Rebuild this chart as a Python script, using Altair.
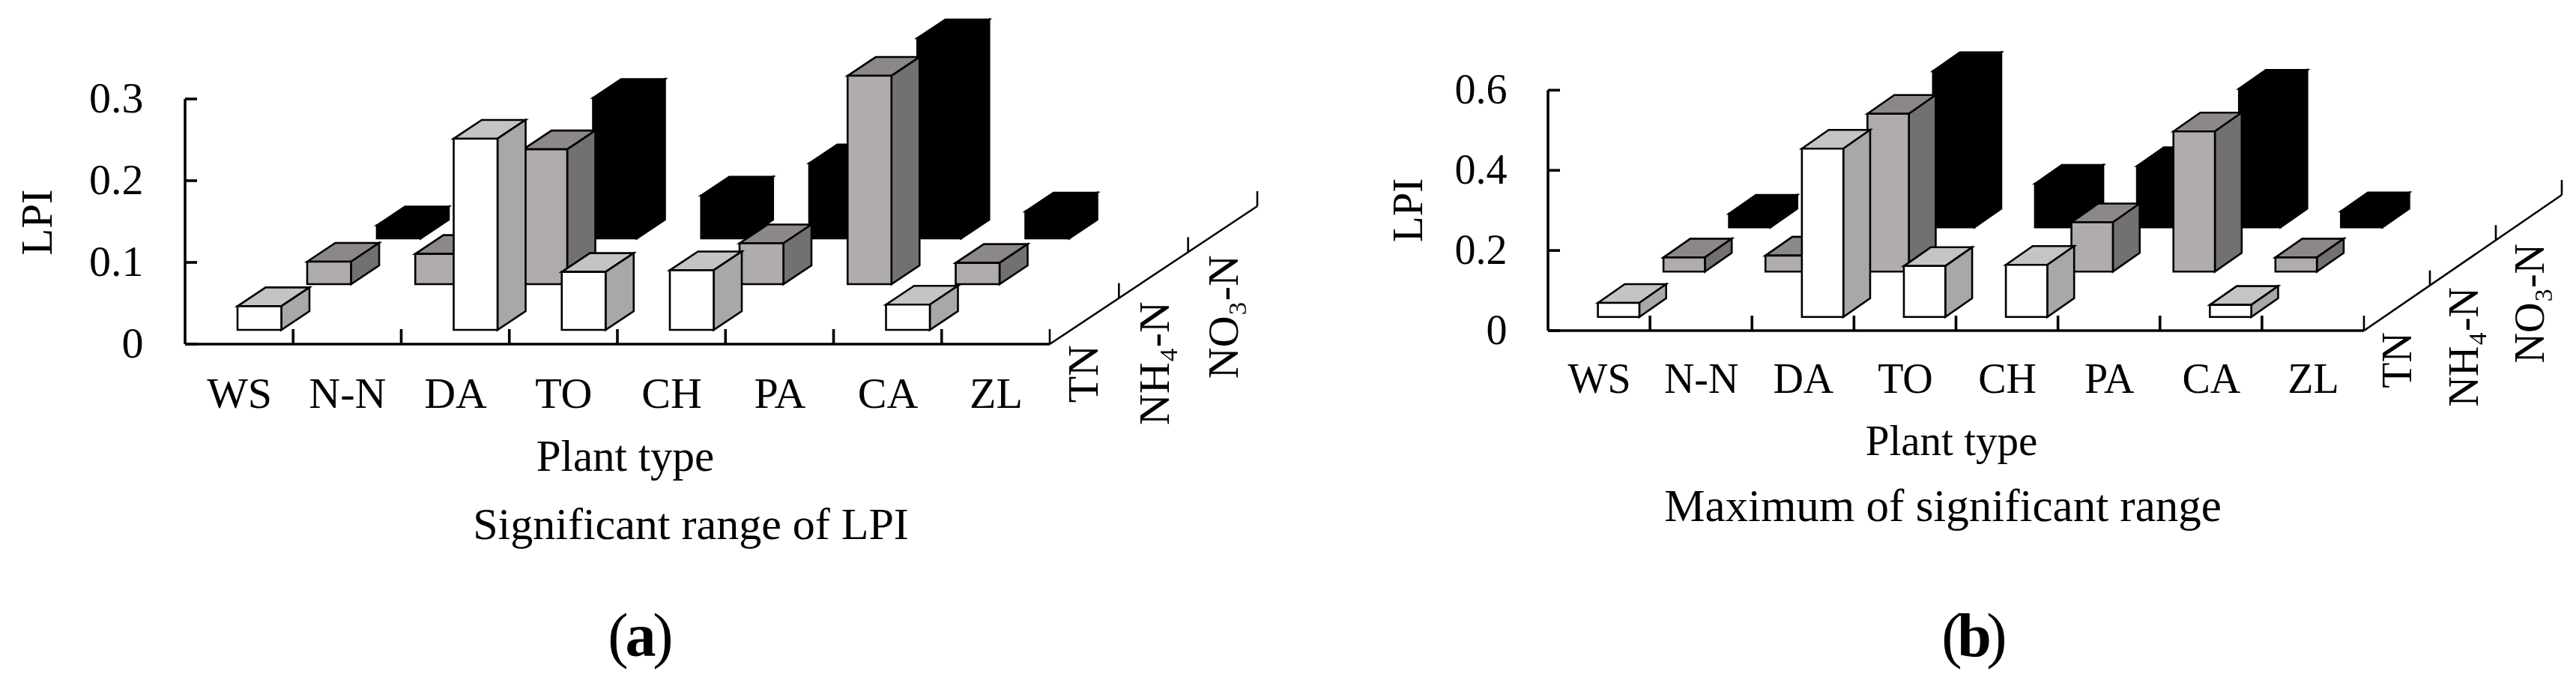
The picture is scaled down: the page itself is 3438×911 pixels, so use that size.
import json
import altair as alt

categories = ["WS", "N-N", "DA", "TO", "CH", "PA", "CA", "ZL"]
depth_labels = ["TN", "NH₄-N", "NO₃-N"]

# LPI values per plant type; None = no bar drawn
a_tn = [0.029, None, 0.234, 0.071, 0.073, None, 0.031, None]
a_nh4 = [0.0275, 0.037, 0.165, None, 0.05, 0.255, 0.026, None]
a_no3 = [0.016, None, 0.172, 0.0525, 0.092, 0.245, 0.033, None]

b_tn = [0.035, None, 0.42, 0.127, 0.13, None, 0.03, None]
b_nh4 = [0.0355, 0.04, 0.394, None, 0.123, 0.35, 0.0355, None]
b_no3 = [0.034, None, 0.39, 0.109, 0.153, 0.346, 0.04, None]

a_ticks = [0, 0.1, 0.2, 0.3]
b_ticks = [0, 0.2, 0.4, 0.6]

FONT = "Liberation Serif"
TOP, BOTTOM = 20, 470
FACE = [
    {"front": "#ffffff", "top": "#c4c4c4", "side": "#a8a8a8"},
    {"front": "#b0acac", "top": "#8c8888", "side": "#727070"},
    {"front": "#000000", "top": "#000000", "side": "#000000"},
]


def panel(series, ticks, cfg):
    x0, x8, y0 = cfg["x0"], cfg["x8"], cfg["y0"]
    step = (x8 - x0) / 8
    ppu = cfg["ppu"]
    ux = lambda px: px / step
    uy = lambda px: px / ppu

    # faces, back to front
    faces = []
    for r in (2, 1, 0):
        for c, v in enumerate(series[r]):
            if v is None:
                continue
            bx = c + ux(cfg["off"] + r * cfg["rowdx"])
            base = uy(y0 - cfg["bases"][r])
            w, dx, dy = ux(cfg["w"]), ux(cfg["sx"]), uy(cfg["sy"])
            t = base + v
            fid = f"{r}-{c}"
            pts = {
                "top": [(bx, t, t), (bx + dx, t + dy, t), (bx + w, t + dy, t), (bx + w + dx, t + dy, t + dy)],
                "side": [(bx + w, t, base), (bx + w + dx, t + dy, base + dy)],
                "front": [(bx, t, base), (bx + w, t, base)],
            }
            for name in ("top", "side", "front"):
                for px, py, py2 in pts[name]:
                    faces.append({"face": f"{fid}-{name}", "x": px, "y": py, "y2": py2, "fill": FACE[r][name]})

    xscale = alt.Scale(domain=[0, 8], nice=False, zero=False)
    yscale = alt.Scale(domain=[(y0 - BOTTOM) / ppu, (y0 - TOP) / ppu], nice=False, zero=False)
    names = json.dumps(categories, ensure_ascii=False)
    xaxis = alt.Axis(
        values=[i + 0.5 for i in range(8)],
        labelExpr=f"{names}[floor(datum.value)]",
        ticks=False, tickSize=0, domain=False, grid=False,
        labelFont=FONT, labelFontSize=cfg["fs"], labelColor="black",
        labelBaseline="alphabetic", labelPadding=cfg["cat_base"] - BOTTOM,
        labelOverlap=False, labelBound=False, labelFlush=False,
        title="Plant type", titleFont=FONT, titleFontSize=cfg["pt_fs"], titleFontWeight="normal",
        titleColor="black", titleBaseline="alphabetic", titleAlign="center",
        titleX=cfg["pt_x"] - x0, titleY=cfg["pt_y"] - BOTTOM,
    )
    yaxis = alt.Axis(
        values=ticks,
        labelExpr="datum.value == 0 ? '0' : format(datum.value, '.1f')",
        ticks=False, tickSize=0, domain=False, grid=False,
        labelFont=FONT, labelFontSize=cfg["fs"], labelColor="black", labelPadding=cfg["lab_pad"],
        labelOverlap=False, labelBound=False, labelFlush=False,
        title="LPI", titleFont=FONT, titleFontSize=cfg["fs"] + 1, titleFontWeight="normal",
        titleColor="black", titleBaseline="alphabetic", titleAlign="center", titleAngle=270,
        titleX=cfg["lpi_x"] - x0, titleY=cfg["lpi_y"] - TOP,
    )
    X = alt.X("x:Q", scale=xscale, axis=xaxis)
    Y = alt.Y("y:Q", scale=yscale, axis=yaxis)

    bars = alt.Chart(alt.Data(values=faces)).mark_area(
        orient="vertical", stroke="black", strokeWidth=2.6, strokeJoin="miter", interpolate="linear"
    ).encode(
        x=X, y=Y, y2="y2:Q",
        fill=alt.Fill("fill:N", scale=None),
        detail="face:N",
    )

    # frame: y axis, floor axis, inward ticks
    tick_u = ux(16)
    tall = uy(20)
    frame = [{"x": 0, "x2": 0, "y": 0, "y2": max(ticks)}, {"x": 0, "x2": 8, "y": 0, "y2": 0}]
    frame += [{"x": 0, "x2": tick_u, "y": t, "y2": t} for t in ticks]
    frame += [{"x": i, "x2": i, "y": 0, "y2": tall} for i in range(1, 8)]
    dxu, dyu = ux(cfg["dax_x"] - x8) / 3, uy(y0 - cfg["dax_y"]) / 3
    depth = [{"x": 8, "x2": 8 + 3 * dxu, "y": 0, "y2": 3 * dyu}]
    depth += [{"x": 8 + i * dxu, "x2": 8 + i * dxu, "y": i * dyu, "y2": i * dyu + tall} for i in range(4)]

    def rules(rows, sw):
        return alt.Chart(alt.Data(values=rows)).mark_rule(stroke="black", strokeWidth=sw).encode(
            x=X, x2="x2:Q", y=Y, y2="y2:Q",
        )

    depth_text = alt.Chart(alt.Data(values=[
        {"t": t, "x": (px - x0) / step, "y": (y0 - py) / ppu}
        for t, (px, py) in zip(depth_labels, cfg["depth_pos"])
    ])).mark_text(font=FONT, fontSize=cfg["fs"], angle=270, align="right", baseline="alphabetic", color="black").encode(
        x=X, y=Y, text="t:N"
    )

    def note(text, px, py, size, weight="normal", align="center"):
        return alt.Chart(alt.Data(values=[{"t": text}])).mark_text(
            font=FONT, fontSize=size, fontWeight=weight, align=align, baseline="alphabetic", color="black"
        ).encode(x=alt.value(px - x0), y=alt.value(py - TOP), text="t:N")

    lx, mx, rx, by = cfg["tag"]
    layers = [bars, rules(frame, 3.6), rules(depth, 2.6), depth_text,
              note(cfg["caption"], cfg["cap_x"], cfg["cap_y"], cfg["cap_fs"]),
              note("(", lx, by, 82), note(cfg["letter"], mx, by, 82, "bold"), note(")", rx, by, 82)]
    return alt.layer(*layers).properties(width=x8 - x0, height=BOTTOM - TOP)


cfg_a = dict(x0=245, x8=1399, y0=459, ppu=1090, off=70, w=58.5, sx=37.5, sy=25, rowdx=93,
             bases=[440, 379, 318], fs=58, pt_fs=59, cat_base=543, lab_pad=56, pt_x=832, pt_y=627,
             lpi_x=66, lpi_y=296, dax_x=1676, dax_y=275,
             depth_pos=[(1463, 460), (1558, 402), (1650, 340)],
             caption="Significant range of LPI", cap_x=920, cap_y=719, cap_fs=60, letter="a",
             tag=(823, 853, 883, 875))
cfg_b = dict(x0=2064, x8=3153, y0=441, ppu=534.5, off=66.6, w=55.3, sx=35.8, sy=25, rowdx=87.5,
             bases=[422.7, 362.3, 303.3], fs=56, pt_fs=57, cat_base=523, lab_pad=55, pt_x=2602, pt_y=606,
             lpi_x=1895, lpi_y=280, dax_x=3417, dax_y=260,
             depth_pos=[(3216, 443), (3305, 383), (3393, 325)],
             caption="Maximum of significant range", cap_x=2591, cap_y=695, cap_fs=61, letter="b",
             tag=(2603, 2633, 2663, 875))

pa = panel([a_tn, a_nh4, a_no3], a_ticks, cfg_a)
pb = panel([b_tn, b_nh4, b_no3], b_ticks, cfg_b)

chart = alt.hconcat(pa, pb, spacing=2064 - 1399, bounds="flush").properties(
    padding={"left": 13, "top": 12, "right": 0, "bottom": 8}, background="white"
).configure_view(stroke=None)

chart.save("out.html", embed_options={"renderer": "svg", "actions": False})
